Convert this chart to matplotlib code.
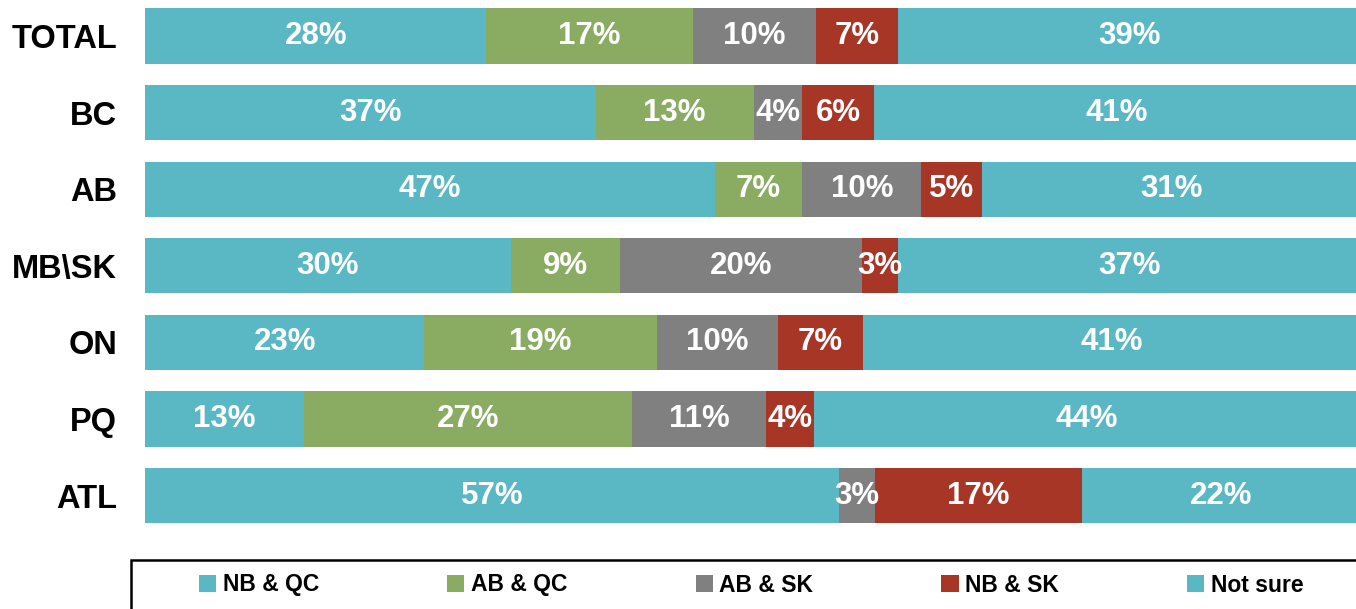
# -*- coding: utf-8 -*-
# Stacked horizontal bar chart: preferred pairing by region

import numpy as np
import matplotlib.pyplot as plt
from matplotlib.patches import Rectangle

plt.rcParams['font.family'] = ['Liberation Sans', 'DejaVu Sans']

#%% Data (segment widths in %)

regions = ['TOTAL', 'BC', 'AB', 'MB\\SK', 'ON', 'PQ', 'ATL']
series_names = ['NB & QC', 'AB & QC', 'AB & SK', 'NB & SK', 'Not sure']

nb_qc = [28.1, 37.1, 46.9, 30.1, 23.0, 13.1, 57.1]
ab_qc = [17.0, 13.0, 7.2, 9.0, 19.1, 27.0, 0.0]
ab_sk = [10.1, 4.0, 9.8, 19.9, 10.0, 11.0, 3.0]
nb_sk = [6.8, 5.9, 5.0, 3.0, 7.0, 4.0, 17.0]
not_sure = [38.0, 40.0, 31.1, 38.0, 40.9, 44.9, 22.9]

# Printed labels as shown on the chart
nb_qc_lbl = [28, 37, 47, 30, 23, 13, 57]
ab_qc_lbl = [17, 13, 7, 9, 19, 27, 0]
ab_sk_lbl = [10, 4, 10, 20, 10, 11, 3]
nb_sk_lbl = [7, 6, 5, 3, 7, 4, 17]
not_sure_lbl = [39, 41, 31, 37, 41, 44, 22]

colors = ['#5AB8C5', '#8AAC62', '#808080', '#A83627', '#5AB8C5']

#%% Plot

W, H = 1356, 609
fig = plt.figure(figsize=(W / 100, H / 100), dpi=100)
ax = fig.add_axes([145 / W, 1 - 534 / H, (W - 145) / W, 534 / H])

values = [nb_qc, ab_qc, ab_sk, nb_sk, not_sure]
labels = [nb_qc_lbl, ab_qc_lbl, ab_sk_lbl, nb_sk_lbl, not_sure_lbl]
y = np.arange(len(regions))
left = np.zeros(len(regions))

for vals, lbls, col, name in zip(values, labels, colors, series_names):
    vals = np.array(vals)
    ax.barh(y, vals, left=left, height=0.72, color=col, label=name)
    for yi, (v, l, x0) in enumerate(zip(vals, lbls, left)):
        if l > 0:
            ax.text(x0 + v / 2, yi, f'{l}%', ha='center', va='center',
                    color='white', fontsize=22.5, fontweight='bold')
    left += vals

ax.set_xlim(0, (W - 145) / 12.15)
ax.set_ylim(6.5, -0.47)
ax.set_yticks(y)
ax.set_yticklabels(regions, fontsize=23.5, fontweight='bold')
ax.tick_params(axis='y', length=0, pad=20)
ax.set_xticks([])
for s in ax.spines.values():
    s.set_visible(False)

# Legend box running off the bottom/right edge
fig.patches.append(Rectangle((131 / W, -0.2), 1.0, (H - 560) / H + 0.2,
                             transform=fig.transFigure, fill=False,
                             edgecolor='black', linewidth=1.8))

handles, names = ax.get_legend_handles_labels()
leg = fig.legend(handles, names, loc='center left',
                 bbox_to_anchor=(199 / W, 1 - 585 / H), ncol=5,
                 frameon=False, borderpad=0, borderaxespad=0,
                 handlelength=0.75, handleheight=0.75, handletextpad=0.28,
                 columnspacing=5.6,
                 prop={'size': 16.5, 'weight': 'bold'})

plt.savefig('out.png', dpi=100)
plt.close(fig)
